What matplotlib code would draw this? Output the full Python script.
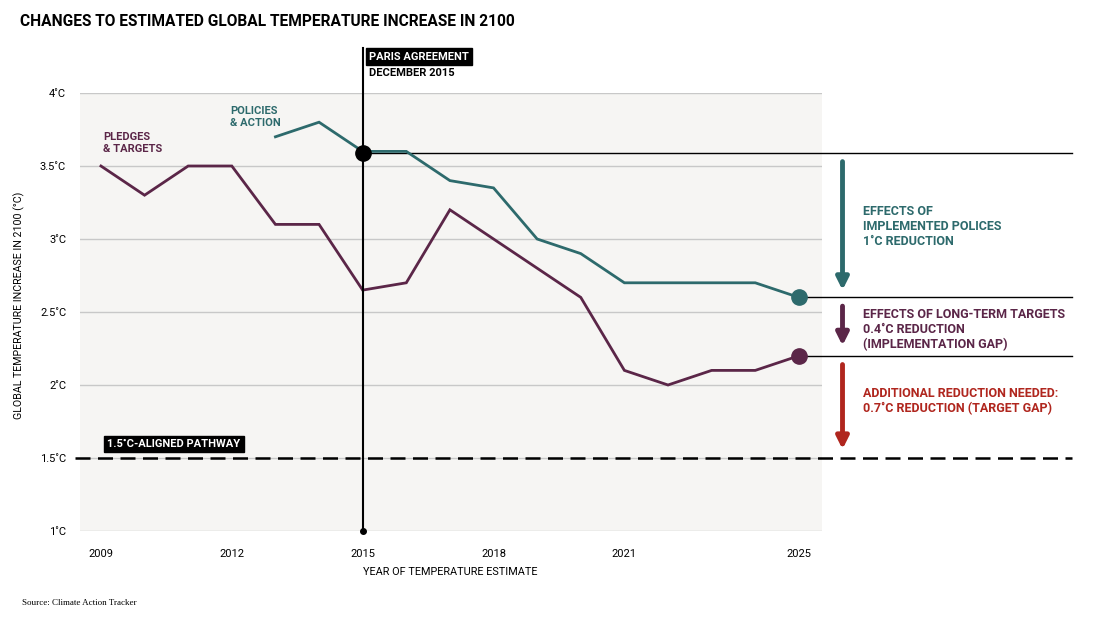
import matplotlib.pyplot as plt

years = list(range(2009, 2026))
pledges = [3.5, 3.3, 3.5, 3.5, 3.1, 3.1, 2.65, 2.7, 3.2, 3.0, 2.8, 2.6, 2.1, 2.0, 2.1, 2.1, 2.2]
policy_years = list(range(2013, 2026))
policies = [3.7, 3.8, 3.6, 3.6, 3.4, 3.35, 3.0, 2.9, 2.7, 2.7, 2.7, 2.7, 2.6]
xticks = [2009, 2012, 2015, 2018, 2021, 2025]
yticks = [1, 1.5, 2, 2.5, 3, 3.5, 4]
ytick_labels = ['1˚C', '1.5˚C', '2˚C', '2.5˚C', '3˚C', '3.5˚C', '4˚C']

teal = '#2d6a6c'
purple = '#5b2648'
red = '#b0261e'
plt.rcParams['font.family'] = ['Roboto', 'DejaVu Sans']

W, H = 1103, 632
fig = plt.figure(figsize=(W / 100, H / 100), dpi=100)
ax = fig.add_axes([80 / W, 1 - 531 / H, (822 - 80) / W, (531 - 93) / H])
ax.set_facecolor('#f6f5f3')
ax.set_xlim(2008.52, 2025.53)
ax.set_ylim(1, 4)
for s in ax.spines.values():
    s.set_visible(False)
for y in yticks:
    ax.axhline(y, color='#c8c8c8', lw=1, zorder=1)

ax.set_xticks(xticks)
ax.set_xticklabels([str(x) for x in xticks], fontsize=8)
ax.set_yticks(yticks)
ax.set_yticklabels(ytick_labels, fontsize=8)
ax.tick_params(length=0)
ax.tick_params(axis='x', pad=13)
ax.tick_params(axis='y', pad=10)
ax.set_xlabel('YEAR OF TEMPERATURE ESTIMATE', fontsize=7.8)
ax.xaxis.set_label_coords((450 - 80) / 742, -(567 - 531) / 438)
ax.set_ylabel('GLOBAL TEMPERATURE INCREASE IN 2100 (°C)', fontsize=7.7)
ax.yaxis.set_label_coords((25 - 80) / 742, (531 - 305) / 438)

# main series
ax.plot(years, pledges, color=purple, lw=2, zorder=4, solid_joinstyle='miter')
ax.plot(policy_years, policies, color=teal, lw=2, zorder=4, solid_joinstyle='miter')
ax.plot(2025, policies[-1], 'o', color=teal, ms=11, zorder=5, clip_on=False)
ax.plot(2025, pledges[-1], 'o', color=purple, ms=11, zorder=5, clip_on=False)

# paris agreement marker
ax.plot([2015, 2015], [1, 4.31], color='black', lw=1.5, zorder=6, clip_on=False)
ax.plot(2015, 3.59, 'o', color='black', ms=11, zorder=7)
ax.plot(2015, 1, 'o', color='black', ms=4, zorder=7, clip_on=False)
ax.text(2015.15, 4.25, 'PARIS AGREEMENT', color='white', fontsize=8, fontweight='bold',
        va='center', zorder=8, clip_on=False,
        bbox=dict(boxstyle='square,pad=0.3', fc='black', ec='black'))
ax.text(2015.15, 4.14, 'DECEMBER 2015', color='black', fontsize=8, fontweight='bold',
        va='center', clip_on=False)

# reference lines extending right
ax.plot([2015, 2031.26], [3.59, 3.59], color='black', lw=1, zorder=3, clip_on=False)
ax.plot([2025, 2031.26], [policies[-1], policies[-1]], color='black', lw=1, zorder=3, clip_on=False)
ax.plot([2025, 2031.26], [pledges[-1], pledges[-1]], color='black', lw=1, zorder=3, clip_on=False)
ax.plot([2008.4, 2031.26], [1.5, 1.5], color='black', lw=1.8, ls=(0, (6, 3)), zorder=3, clip_on=False)
ax.text(2009.15, 1.595, '1.5˚C-ALIGNED PATHWAY', color='white', fontsize=8, fontweight='bold',
        va='center', zorder=8,
        bbox=dict(boxstyle='square,pad=0.3', fc='black', ec='black'))

# series labels
ax.text(2011.96, 3.91, 'POLICIES\n& ACTION', color=teal, fontsize=8, fontweight='bold',
        va='top', linespacing=1.2)
ax.text(2009.05, 3.73, 'PLEDGES\n& TARGETS', color=purple, fontsize=8, fontweight='bold',
        va='top', linespacing=1.2)

# reduction arrows
arrows = [(3.53, 2.65, teal), (2.54, 2.27, purple), (2.14, 1.56, red)]
for y0, y1, c in arrows:
    ax.annotate('', xy=(2026.0, y1), xytext=(2026.0, y0), annotation_clip=False,
                arrowprops=dict(arrowstyle='-|>', color=c, lw=3.5, mutation_scale=18,
                                shrinkA=0, shrinkB=0))
ax.text(2026.48, 3.085, 'EFFECTS OF\nIMPLEMENTED POLICES\n1˚C REDUCTION', color=teal,
        fontsize=9, fontweight='bold', va='center', linespacing=1.2, clip_on=False)
ax.text(2026.48, 2.38, 'EFFECTS OF LONG-TERM TARGETS\n0.4˚C REDUCTION\n(IMPLEMENTATION GAP)',
        color=purple, fontsize=9, fontweight='bold', va='center', linespacing=1.2, clip_on=False)
ax.text(2026.48, 1.89, 'ADDITIONAL REDUCTION NEEDED:\n0.7˚C REDUCTION (TARGET GAP)', color=red,
        fontsize=9, fontweight='bold', va='center', linespacing=1.2, clip_on=False)

fig.text(20 / W, 1 - 22 / H, 'CHANGES TO ESTIMATED GLOBAL TEMPERATURE INCREASE IN 2100',
         fontsize=11.2, fontweight='bold', va='center', ha='left')
fig.text(22 / W, 1 - 603 / H, 'Source: Climate Action Tracker', fontsize=6.5,
         family='Liberation Serif', va='center')

fig.savefig('out.png', dpi=100)
